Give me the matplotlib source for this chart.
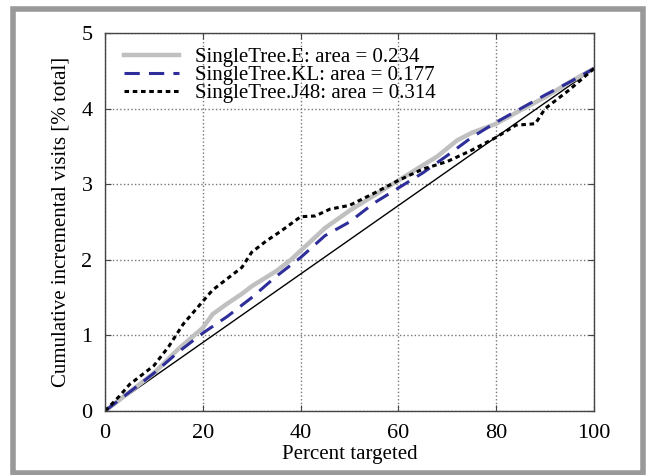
import matplotlib
matplotlib.use("Agg")
import matplotlib.pyplot as plt
from matplotlib.patches import Rectangle

# percent targeted and cumulative incremental visits [% total]
x_e = [0, 5, 10, 15, 20, 22, 25, 28, 30, 35, 38, 40, 45, 50, 55, 60, 65, 68, 72, 75, 80, 85, 90, 95, 100]
y_e = [0, 0.25, 0.5, 0.82, 1.1, 1.28, 1.42, 1.55, 1.65, 1.85, 2.0, 2.12, 2.42, 2.65, 2.85, 3.05, 3.25, 3.37, 3.58, 3.68, 3.8, 3.98, 4.15, 4.35, 4.53]

x_kl = [0, 5, 10, 15, 20, 25, 30, 35, 40, 45, 50, 55, 60, 65, 70, 75, 80, 85, 90, 95, 100]
y_kl = [0, 0.25, 0.5, 0.78, 1.03, 1.25, 1.5, 1.78, 2.03, 2.32, 2.5, 2.75, 2.95, 3.15, 3.38, 3.62, 3.82, 4.0, 4.18, 4.35, 4.53]

x_j48 = [0, 3, 5, 8, 10, 13, 16, 20, 22, 25, 28, 30, 33, 36, 40, 43, 46, 50, 55, 60, 65, 70, 75, 80, 84, 88, 90, 95, 100]
y_j48 = [0, 0.2, 0.35, 0.5, 0.6, 0.85, 1.15, 1.45, 1.6, 1.75, 1.9, 2.1, 2.25, 2.38, 2.57, 2.58, 2.67, 2.72, 2.88, 3.05, 3.2, 3.3, 3.45, 3.62, 3.78, 3.8, 4.0, 4.25, 4.53]

x_rand = [0, 100]
y_rand = [0, 4.53]

labels = ["SingleTree.E: area = 0.234", "SingleTree.KL: area = 0.177", "SingleTree.J48: area = 0.314"]

plt.rcParams['font.family'] = ['Liberation Serif', 'DejaVu Serif']

fig = plt.figure(figsize=(6.46, 4.75), dpi=100)
ax = fig.add_axes([105/646, 64/475, 489/646, 378/475])

ax.plot(x_rand, y_rand, color='black', linewidth=1.0)
ax.plot(x_e, y_e, color='#c0c0c0', linewidth=3.2, label=labels[0])
ax.plot(x_kl, y_kl, color='#2e2e9a', linewidth=2.2, linestyle=(0, (5, 3)), label=labels[1])
ax.plot(x_j48, y_j48, color='black', linewidth=2.2, linestyle=(0, (1.5, 1.2)), label=labels[2])

ax.set_xlim(0, 100)
ax.set_ylim(0, 5)
ax.set_xticks([0, 20, 40, 60, 80, 100])
ax.set_yticks([0, 1, 2, 3, 4, 5])
ax.grid(True, linestyle=':', color='#777777', linewidth=1.0)
ax.tick_params(direction='in', length=4, top=True, right=True, labelsize=16, pad=9, color='#444444')
for s in ax.spines.values():
    s.set_color('#444444')
    s.set_linewidth(1.0)

ax.set_xlabel("Percent targeted", fontsize=15, labelpad=2)
ax.set_ylabel("Cumulative incremental visits [% total]", fontsize=15, labelpad=8)

ax.legend(loc='upper left', frameon=False, fontsize=15, handlelength=2.6,
          labelspacing=-0.08, borderaxespad=0.3, handletextpad=0.8,
          bbox_to_anchor=(0.01, 1.0))

fig.patches.append(Rectangle((13.5/646, 2.5/475), 629/646, 464/475, transform=fig.transFigure,
                             fill=False, edgecolor='#999999', linewidth=4))

fig.savefig("out.png", dpi=100)
